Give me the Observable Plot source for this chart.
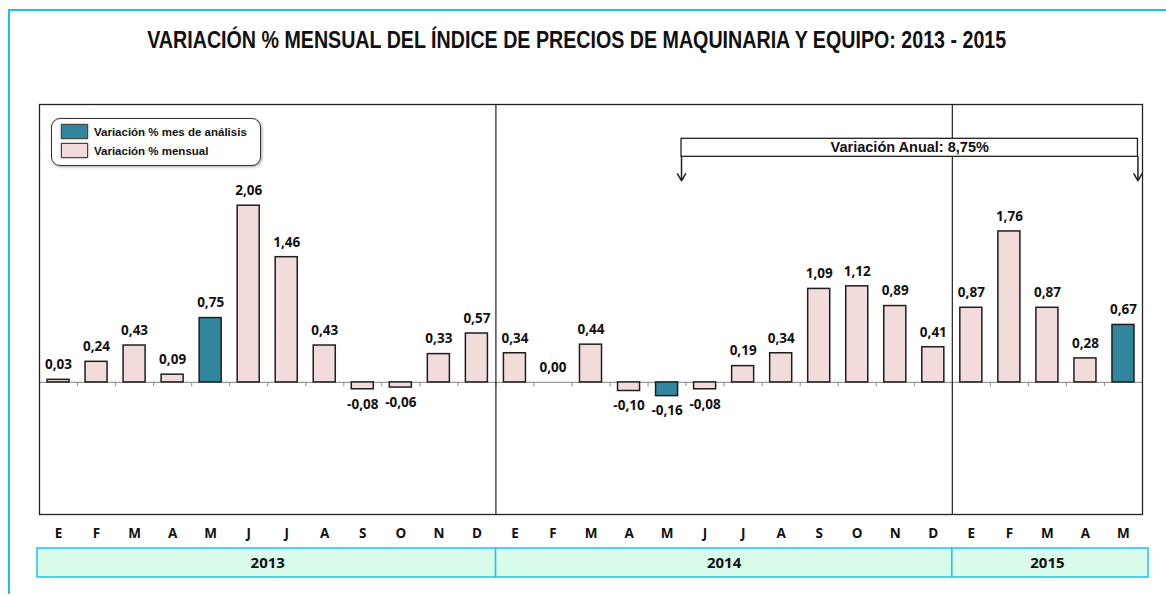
<!DOCTYPE html>
<html>
<head>
<meta charset="utf-8">
<script src="https://cdn.jsdelivr.net/npm/d3@7"></script>
<script src="https://cdn.jsdelivr.net/npm/@observablehq/plot@0.6"></script>
<style>
  html, body { margin: 0; padding: 0; background: #fff; }
  #root { position: relative; width: 1166px; height: 596px; overflow: hidden; }
  #frame { position: absolute; left: 8px; top: 9px; width: 1170px; height: 583px;
           border-top: 2px solid #19c1f0; border-left: 2px solid #19c1f0; }
  #title { position: absolute; left: 0; width: 1154px; top: 27px; text-align: center; }
  #title span { display: inline-block; transform-origin: center;
           font-family: "Liberation Sans", Arial, sans-serif;
           font-weight: bold; font-size: 23px; color: #111; white-space: nowrap; }
  #legend { position: absolute; left: 51px; top: 118px; width: 208px; height: 46px;
            border: 1px solid #333; border-radius: 9px; background: #fff;
            box-shadow: 1px 1px 3px rgba(0,0,0,0.35);
            font-family: "Liberation Sans", Arial, sans-serif; font-weight: bold; font-size: 11.5px; color: #111; }
  .item { position: absolute; left: 9px; height: 15px; display: flex; align-items: center; }
  .sw { width: 25px; height: 13px; border: 1.5px solid #444; margin-right: 6px;
        box-shadow: 0 0 2px rgba(0,0,0,0.5); }
  #main { position: absolute; left: 0; top: 0; }
  #years { position: absolute; left: 0; top: 547px; }
</style>
</head>
<body>
<div id="root">
  <div id="frame"></div>
  <div id="title"><span id="titleText"></span></div>
  <div id="main"></div>
  <div id="years"></div>
  <div id="legend"></div>
</div>
<script>
// ---------- data ----------
const monthLetters = ["E","F","M","A","M","J","J","A","S","O","N","D"];
const years = ["2013", "2014", "2015"];
const values2013 = [0.03, 0.24, 0.43, 0.09, 0.75, 2.06, 1.46, 0.43, -0.08, -0.06, 0.33, 0.57];
const values2014 = [0.34, 0.00, 0.44, -0.10, -0.16, -0.08, 0.19, 0.34, 1.09, 1.12, 0.89, 0.41];
const values2015 = [0.87, 1.76, 0.87, 0.28, 0.67];
const analysisMonth = 4; // mayo: mes de análisis (index within year)
const titleText = "VARIACIÓN % MENSUAL DEL ÍNDICE DE PRECIOS DE MAQUINARIA Y EQUIPO: 2013 - 2015";
const legendLabels = ["Variación % mes de análisis", "Variación % mensual"];
const colors = ["#31859c", "#f2dcdb"];
const annualText = "Variación Anual: 8,75%";
const annualFromTo = [["2014", 4], ["2015", 4]]; // mayo 2014 -> mayo 2015

// ---------- build table ----------
const seriesByYear = [values2013, values2014, values2015];
const rows = [];
seriesByYear.forEach((vals, yi) => {
  vals.forEach((v, m) => {
    rows.push({ i: rows.length, year: years[yi], m, month: monthLetters[m], value: v, analysis: m === analysisMonth });
  });
});
const yearSpans = years.map((y) => {
  const r = rows.filter(d => d.year === y);
  return { year: y, start: r[0].i, end: r[r.length - 1].i + 1 };
});
const idx = (y, m) => rows.find(d => d.year === y && d.m === m).i;
const aFrom = idx(...annualFromTo[0]) + 0.88;
const aTo = idx(...annualFromTo[1]) + 0.88;
const fmt = v => v.toFixed(2).replace(".", ",");
const N = rows.length;

// ---------- title & legend ----------
const tEl = document.getElementById("titleText");
tEl.textContent = titleText;
const tw = tEl.getBoundingClientRect().width;
tEl.style.transform = `scaleX(${859 / tw})`;
const lg = document.getElementById("legend");
legendLabels.forEach((t, k) => {
  const it = document.createElement("div");
  it.className = "item";
  it.style.top = (k === 0 ? 5 : 24) + "px";
  const sw = document.createElement("div");
  sw.className = "sw";
  sw.style.background = colors[k];
  it.appendChild(sw);
  const s = document.createElement("span");
  s.textContent = t;
  it.appendChild(s);
  lg.appendChild(it);
});

// ---------- main chart ----------
const edges = d3.range(1, N);
const main = Plot.plot({
  width: 1166,
  height: 548,
  marginTop: 104,
  marginBottom: 34,
  marginLeft: 39,
  marginRight: 24,
  style: { fontFamily: "'Open Sans', sans-serif", fontSize: "13px", fontWeight: "bold", color: "#111", background: "transparent" },
  x: { domain: [0, N], axis: null },
  y: { domain: [-1.54, 3.24], axis: null },
  marks: [
    Plot.ruleY([0], { stroke: "#9a9a9a", strokeWidth: 1.2 }),
    Plot.ruleX(edges, { y1: 0, y2: -0.05, stroke: "#9a9a9a", strokeWidth: 1.2 }),
    Plot.rect(rows, {
      x1: "i", x2: d => d.i + 1, y1: 0, y2: "value",
      insetLeft: 8, insetRight: 8,
      fill: d => d.analysis ? colors[0] : colors[1],
      stroke: "#1e1e1e", strokeWidth: 1.5
    }),
    Plot.text(rows.filter(d => d.value >= 0), {
      x: d => d.i + 0.5, y: "value", text: d => fmt(d.value), dy: -15,
      fill: "#111", fontSize: 13.5, fontWeight: "bold"
    }),
    Plot.text(rows.filter(d => d.value < 0), {
      x: d => d.i + 0.5, y: "value", text: d => fmt(d.value), dy: 15,
      fill: "#111", fontSize: 13.5, fontWeight: "bold"
    }),
    Plot.ruleX(yearSpans.slice(1).map(s => s.start), { stroke: "#222", strokeWidth: 1.2 }),
    // annual variation annotation
    Plot.arrow([aFrom, aTo], { x1: d => d, x2: d => d, y1: 2.63, y2: 2.35, stroke: "#222", strokeWidth: 1.5, headLength: 12, headAngle: 60 }),
    Plot.rect([annualText], { x1: aFrom, x2: aTo, y1: 2.63, y2: 2.84, fill: "#fff", stroke: "#222", strokeWidth: 1.3 }),
    Plot.text([annualText], { x: (aFrom + aTo) / 2, y: 2.735, text: d => d, fill: "#111",
      fontFamily: "'Liberation Sans', Arial, sans-serif", fontSize: 14.5, fontWeight: "bold" }),
    Plot.frame({ stroke: "#222", strokeWidth: 1.3 }),
    Plot.axisX(rows.map(d => d.i + 0.5), {
      tickFormat: d => rows[Math.floor(d)].month, tickSize: 0, tickPadding: 14, label: null,
      fontSize: 13.5, fontWeight: "bold", fill: "#111"
    })
  ]
});
document.getElementById("main").appendChild(main);

// ---------- year band ----------
const first = yearSpans[0], last = yearSpans[yearSpans.length - 1];
const yb = Plot.plot({
  width: 1166,
  height: 31,
  marginTop: 1,
  marginBottom: 1,
  marginLeft: 39,
  marginRight: 24,
  style: { fontFamily: "'Open Sans', sans-serif", background: "transparent", overflow: "visible" },
  x: { domain: [0, N], axis: null },
  marks: [
    Plot.rect(yearSpans.filter(d => d !== first && d !== last), { x1: "start", x2: "end", fill: "#d8fbea", stroke: "#1cc3f2", strokeWidth: 1.5 }),
    Plot.rect([first], { x1: "start", x2: "end", insetLeft: -2, fill: "#d8fbea", stroke: "#1cc3f2", strokeWidth: 1.5 }),
    Plot.rect([last], { x1: "start", x2: "end", insetRight: -6, fill: "#d8fbea", stroke: "#1cc3f2", strokeWidth: 1.5 }),
    Plot.text(yearSpans, { x: d => (d.start + d.end) / 2, text: "year", frameAnchor: "middle",
      fill: "#111", fontSize: 15, fontWeight: "bold" })
  ]
});
document.getElementById("years").appendChild(yb);
</script>
</body>
</html>
